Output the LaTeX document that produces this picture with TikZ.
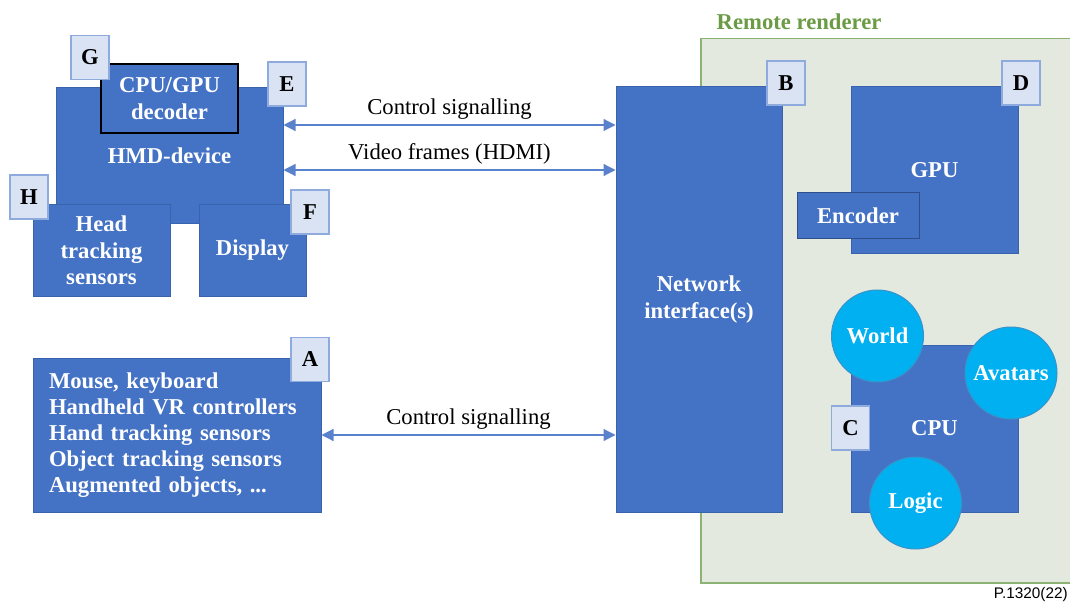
\documentclass[tikz,border=0pt]{standalone}
\usepackage{fontspec}
\setmainfont{Liberation Serif}
\newfontfamily\figsans{Liberation Sans}
\usetikzlibrary{arrows.meta,calc}
\newlength\pxu
\setlength\pxu{0.75pt}
\definecolor{boxblue}{HTML}{4472C4}
\definecolor{boxedge}{HTML}{3A63AD}
\definecolor{tagfill}{HTML}{DAE3F3}
\definecolor{tagedge}{HTML}{8FAADC}
\definecolor{rrfill}{HTML}{E3E9DF}
\definecolor{rredge}{HTML}{8DB374}
\definecolor{rrtext}{HTML}{6B9B45}
\definecolor{ballfill}{HTML}{00B0F0}
\definecolor{balledge}{HTML}{3A93C8}
\definecolor{linkblue}{HTML}{5A82CC}
\tikzset{
  every node/.style={font=\fontsize{17}{20}\selectfont},
  block/.style={draw=boxedge, line width=1\pxu, fill=boxblue, text=white,
    font=\fontsize{17}{20}\selectfont\bfseries, align=center, inner sep=0pt},
  tag/.style={draw=tagedge, line width=1.5\pxu, fill=tagfill, text=black,
    font=\fontsize{17}{20}\selectfont\bfseries, minimum width=38\pxu,
    minimum height=44\pxu, inner sep=0pt},
  ball/.style={circle, draw=balledge, line width=1\pxu, fill=ballfill, text=white,
    font=\fontsize{17}{20}\selectfont\bfseries, minimum size=92\pxu, inner sep=0pt},
  link/.style={draw=linkblue, line width=0.9pt,
    {Triangle[length=9pt,width=9pt]}-{Triangle[length=9pt,width=9pt]}},
  linklabel/.style={midway, yshift=16\pxu, text=black}
}
\begin{document}
\begin{tikzpicture}[x=0.75pt, y=-0.75pt]
\useasboundingbox (0,0) rectangle (1070,602);

% remote renderer enclosure
\node[anchor=north west, draw=rredge, line width=1.5\pxu, fill=rrfill,
  minimum width=372\pxu, minimum height=544\pxu, inner sep=0pt] (rr) at (700,38) {};
\node[anchor=west, text=rrtext, font=\fontsize{17}{20}\selectfont\bfseries] (rrtitle) at (712,22) {Remote renderer};

% HMD device and its parts
\node[block, minimum width=227\pxu, minimum height=136\pxu] (hmd) at (169.5,156) {HMD-device};
\node[block, draw=black, line width=1.5\pxu, minimum width=137\pxu, minimum height=69\pxu] (dec) at (169.5,98.5) {CPU/GPU\\decoder};
\node[block, minimum width=137\pxu, minimum height=91\pxu] (head) at (101.5,250.5) {Head\\tracking\\sensors};
\node[block, minimum width=107\pxu, minimum height=91\pxu] (disp) at (252.5,250.5) {Display};
\node[tag] (tG) at (90,57.5) {G};
\node[tag] (tE) at (287,84) {E};
\node[tag] (tH) at (29,197) {H};
\node[tag] (tF) at (310,212) {F};

% input devices
\node[block, minimum width=288\pxu, minimum height=154\pxu, text width=256\pxu,
  align=left, inner xsep=16\pxu, font=\fontsize{17}{19.4}\selectfont\bfseries] (inp) at (177,435)
  {Mouse, keyboard\\Handheld VR controllers\\Hand tracking sensors\\Object tracking sensors\\Augmented objects, ...};
\node[tag] (tA) at (310,359.5) {A};

% network interface
\node[block, minimum width=166\pxu, minimum height=425\pxu] (net) at (699,299.5) {Network\\interface(s)};
\node[tag] (tB) at (786,83) {B};

% GPU with encoder
\node[block, minimum width=167\pxu, minimum height=167\pxu] (gpu) at (934.5,170.5) {GPU};
\node[block, draw=boxedge!80!black, minimum width=122\pxu, minimum height=46\pxu] (enc) at (858,216) {Encoder};
\node[tag] (tD) at (1021,83) {D};

% CPU with its modules
\node[block, minimum width=167\pxu, minimum height=167\pxu] (cpu) at (934.5,428.5) {CPU};
\node[tag] (tC) at (850.5,428) {C};
\node[ball] (world) at (877.5,336) {World};
\node[ball] (avatars) at (1011,373) {Avatars};
\node[ball] (logic) at (915.5,503) {Logic};

% signalling links
\coordinate (h1) at ([yshift=23.25pt]hmd.east);
\coordinate (h2) at ([yshift=-10.5pt]hmd.east);
\draw[link] (h1) -- (h1 -| net.west) node[linklabel] {Control signalling};
\draw[link] (h2) -- (h2 -| net.west) node[linklabel] {Video frames (HDMI)};
\draw[link] (inp.east) -- (inp.east -| net.west) node[linklabel] {Control signalling};

% figure number
\node[anchor=east, font=\figsans\fontsize{11.5}{13}\selectfont, inner sep=0pt] (fignum) at (1068,595) {P.1320(22)};
\end{tikzpicture}
\end{document}
